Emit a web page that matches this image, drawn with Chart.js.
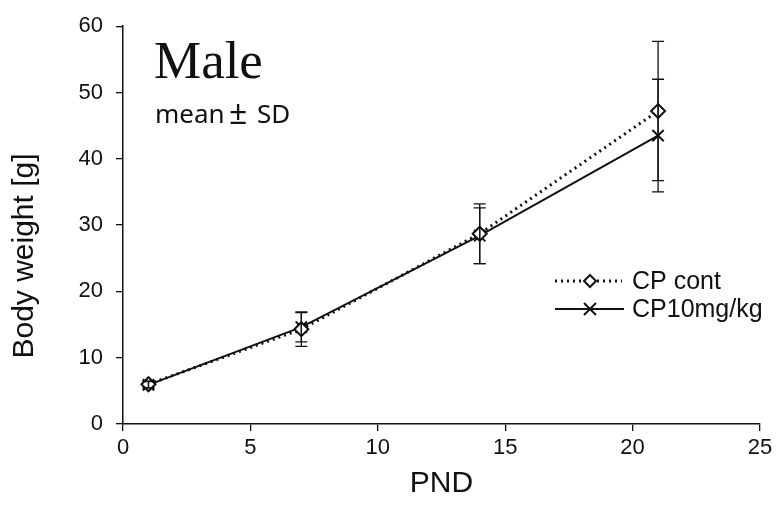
<!DOCTYPE html>
<html>
<head>
<meta charset="utf-8">
<script src="https://cdn.jsdelivr.net/npm/chart.js@4"></script>
<style>
  html, body { margin: 0; padding: 0; background: #fff; }
  #wrap { width: 777px; height: 506px; position: relative; }
</style>
</head>
<body>
<div id="wrap"><canvas id="bwChart"></canvas></div>
<script>
// Postnatal day and body weight (mean, SD)
const days = [1, 7, 14, 21];
const contMean = [6.0, 14.3, 28.7, 47.2];
const contSd = [0.5, 2.6, 4.5, 10.5];
const cp10Mean = [5.9, 14.6, 28.4, 43.5];
const cp10Sd = [0.5, 2.2, 4.2, 8.5];
const xTicks = [0, 5, 10, 15, 20, 25];
const yTicks = [0, 10, 20, 30, 40, 50, 60];

const ink = '#111';
const fontSans = '"Liberation Sans", Arial, sans-serif';

// Error bars drawn from the scales
const errorBars = {
    id: 'errorBars',
    afterDatasetsDraw(chart) {
        const ctx = chart.ctx;
        const xs = chart.scales.x;
        const ys = chart.scales.y;
        const sets = [[contMean, contSd], [cp10Mean, cp10Sd]];
        ctx.save();
        ctx.strokeStyle = ink;
        ctx.lineWidth = 1.3;
        sets.forEach(([mean, sd]) => {
            days.forEach((d, i) => {
                const px = xs.getPixelForValue(d);
                const top = ys.getPixelForValue(mean[i] + sd[i]);
                const bot = ys.getPixelForValue(mean[i] - sd[i]);
                ctx.beginPath();
                ctx.moveTo(px, top);
                ctx.lineTo(px, bot);
                ctx.moveTo(px - 6, top);
                ctx.lineTo(px + 6, top);
                ctx.moveTo(px - 6, bot);
                ctx.lineTo(px + 6, bot);
                ctx.stroke();
            });
        });
        ctx.restore();
    }
};

// Title text, y axis title and legend
const annotations = {
    id: 'annotations',
    afterDraw(chart) {
        const ctx = chart.ctx;
        ctx.save();
        ctx.fillStyle = ink;
        ctx.textBaseline = 'alphabetic';
        ctx.textAlign = 'left';
        ctx.font = '53px "Liberation Serif", "Times New Roman", serif';
        ctx.fillText('Male', 154, 78);
        ctx.font = '26px "Noto Sans", ' + fontSans;
        ctx.fillText('mean', 155, 123);
        ctx.fillText('SD', 257, 123);
        ctx.font = '32px "Noto Sans", ' + fontSans;
        ctx.fillText('\u00b1', 229, 124);

        // y axis title
        ctx.save();
        ctx.translate(25, 256);
        ctx.rotate(-Math.PI / 2);
        ctx.textAlign = 'center';
        ctx.textBaseline = 'middle';
        ctx.font = '30px ' + fontSans;
        ctx.fillText('Body weight [g]', 0, 0);
        ctx.restore();

        // legend
        const lx0 = 555, lx1 = 622, mx = 590;
        const r1 = 281, r2 = 309;
        ctx.strokeStyle = ink;
        ctx.lineWidth = 3;
        ctx.setLineDash([2, 4]);
        ctx.beginPath();
        ctx.moveTo(lx0, r1);
        ctx.lineTo(lx1, r1);
        ctx.stroke();
        ctx.setLineDash([]);
        ctx.fillStyle = '#fff';
        ctx.lineWidth = 2;
        ctx.beginPath();
        ctx.moveTo(mx, r1 - 6);
        ctx.lineTo(mx + 6, r1);
        ctx.lineTo(mx, r1 + 6);
        ctx.lineTo(mx - 6, r1);
        ctx.closePath();
        ctx.fill();
        ctx.stroke();

        ctx.lineWidth = 2;
        ctx.beginPath();
        ctx.moveTo(lx0, r2);
        ctx.lineTo(lx1 + 2, r2);
        ctx.moveTo(mx - 6, r2 - 6);
        ctx.lineTo(mx + 6, r2 + 6);
        ctx.moveTo(mx + 6, r2 - 6);
        ctx.lineTo(mx - 6, r2 + 6);
        ctx.stroke();

        ctx.fillStyle = ink;
        ctx.font = '25px ' + fontSans;
        ctx.textBaseline = 'middle';
        ctx.fillText('CP cont', 632, r1 + 1);
        ctx.fillText('CP10mg/kg', 632, r2 + 1);
        ctx.restore();
    }
};

const toPoints = (mean) => days.map((d, i) => ({ x: d, y: mean[i] }));

new Chart(document.getElementById('bwChart'), {
    type: 'scatter',
    data: {
        datasets: [
            {
                label: 'CP cont',
                data: toPoints(contMean),
                showLine: true,
                borderColor: ink,
                borderWidth: 3,
                borderDash: [2, 4],
                pointStyle: 'rectRot',
                pointRadius: 7,
                pointBorderWidth: 2,
                pointBackgroundColor: '#fff',
                pointBorderColor: ink
            },
            {
                label: 'CP10mg/kg',
                data: toPoints(cp10Mean),
                showLine: true,
                borderColor: ink,
                borderWidth: 2,
                pointStyle: 'crossRot',
                pointRadius: 8,
                pointBorderWidth: 2,
                pointBorderColor: ink
            }
        ]
    },
    options: {
        responsive: true,
        maintainAspectRatio: false,
        animation: false,
        layout: { padding: { top: 25, right: 17, bottom: 4, left: 2 } },
        plugins: {
            legend: { display: false },
            tooltip: { enabled: false }
        },
        scales: {
            x: {
                type: 'linear',
                min: 0,
                max: 25,
                afterBuildTicks: (s) => { s.ticks = xTicks.map(v => ({ value: v })); },
                afterFit: (s) => { s.height = 78; },
                border: { color: ink, width: 1.5 },
                grid: { drawOnChartArea: false, drawTicks: true, tickLength: 7, color: ink, lineWidth: 1.3 },
                ticks: { color: ink, font: { family: fontSans, size: 22 }, padding: 4 },
                title: { display: true, text: 'PND', color: ink, font: { family: fontSans, size: 30 }, padding: { top: 0, bottom: 0 } }
            },
            y: {
                min: 0,
                max: 60,
                afterBuildTicks: (s) => { s.ticks = yTicks.map(v => ({ value: v })); },
                afterFit: (s) => { s.width = 121; },
                border: { color: ink, width: 1.5 },
                grid: { drawOnChartArea: false, drawTicks: true, tickLength: 7, color: ink, lineWidth: 1.3 },
                ticks: { color: ink, font: { family: fontSans, size: 22 }, padding: 13 }
            }
        }
    },
    plugins: [errorBars, annotations]
});
</script>
</body>
</html>
